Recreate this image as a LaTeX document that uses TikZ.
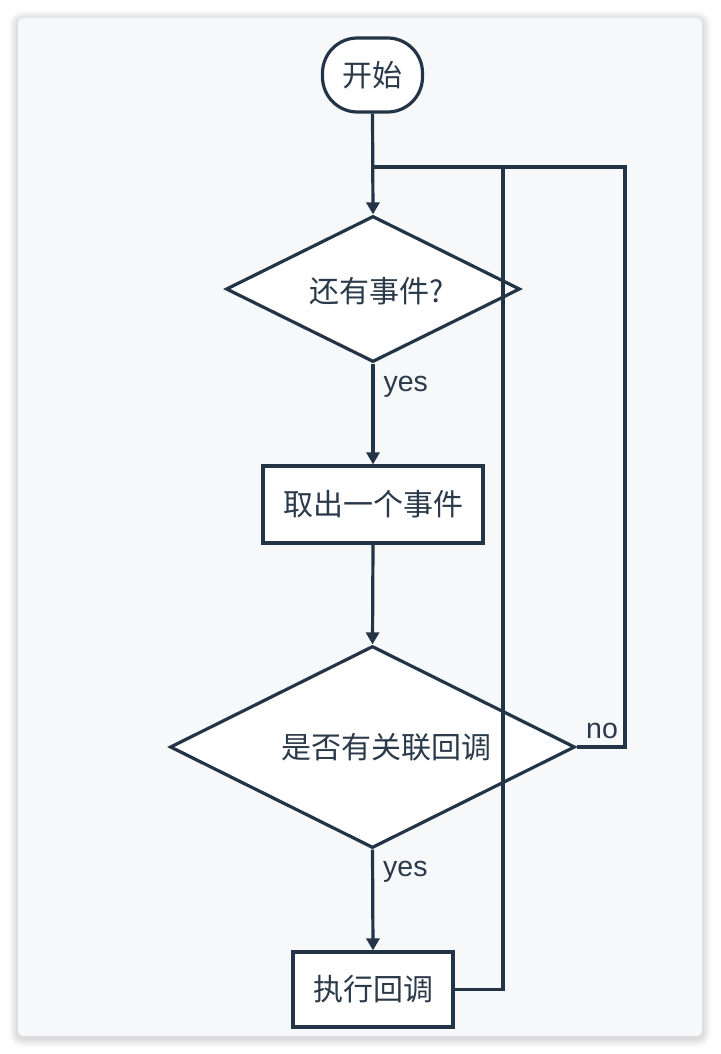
\documentclass[tikz,border=0pt]{standalone}
\usepackage{fontspec}
\setmainfont{Noto Sans CJK SC}
\newfontfamily\latinfont{Liberation Sans}
\usetikzlibrary{shapes.geometric,arrows.meta}
\definecolor{lineC}{HTML}{243447}
\definecolor{textC}{HTML}{2B3A4A}
\definecolor{cardC}{HTML}{F7F8FA}
\tikzset{
  every node/.style={text=textC},
  shapebox/.style={draw=lineC, line width=3.2pt, fill=white, inner sep=0pt, font=\fontsize{30}{35}\selectfont},
  procbox/.style={shapebox, rectangle},
  startbox/.style={shapebox, rectangle, rounded corners=35pt, minimum width=100pt, minimum height=74pt},
  decbox/.style={shapebox, diamond},
  conn/.style={draw=lineC, line width=3.2pt},
  arr/.style={conn, -{Triangle[width=13pt,length=12pt]}},
  lbl/.style={font=\latinfont\fontsize{28.5}{32}\selectfont, inner sep=0pt},
}
\begin{document}
\begin{tikzpicture}[x=1pt,y=-1pt]
\useasboundingbox (0,0) rectangle (720,1054);
% card shadow
\foreach \i in {1,...,9}{
  \fill[black, opacity=0.014, rounded corners={5+\i}] (18-\i,18-\i+2) rectangle (702+\i,1036+\i+2);
}
\fill[cardC, rounded corners=5pt] (18,18) rectangle (702,1036);

\node[startbox] (start) at (372.5,75) {开始};
\node[decbox, minimum width=294pt, minimum height=146pt,
      label={[font=\fontsize{30}{35}\selectfont, text=textC, xshift=4pt, yshift=-2pt]center:还有事件?}] (d1) at (373,289) {};
\node[procbox, minimum width=220pt, minimum height=77pt] (r1) at (373,504.5) {取出一个事件};
\node[decbox, minimum width=405pt, minimum height=202pt,
      label={[font=\fontsize{30}{35}\selectfont, text=textC, xshift=14pt, yshift=0pt]center:是否有关联回调}] (d2) at (372.5,747) {};
\node[procbox, minimum width=160pt, minimum height=75pt] (r2) at (373,989.5) {执行回调};

\coordinate (j1) at (372.5,167);
\coordinate (j2) at (503,167);
\coordinate (j3) at (625,167);

\draw[arr] (start.south) -- (d1.north);
\draw[arr] (d1.south) -- node[lbl, anchor=west, xshift=9pt, pos=0.23] {yes} (r1.north);
\draw[arr] (r1.south) -- (d2.north);
\draw[arr] (d2.south) -- node[lbl, anchor=west, xshift=9pt, pos=0.22] {yes} (r2.north);
\draw[conn] (d2.east) -| (j3) -- (j1);
\draw[conn] (r2.east) -| (j2);
\node[lbl] (no) at (602,731) {no};
\end{tikzpicture}
\end{document}
